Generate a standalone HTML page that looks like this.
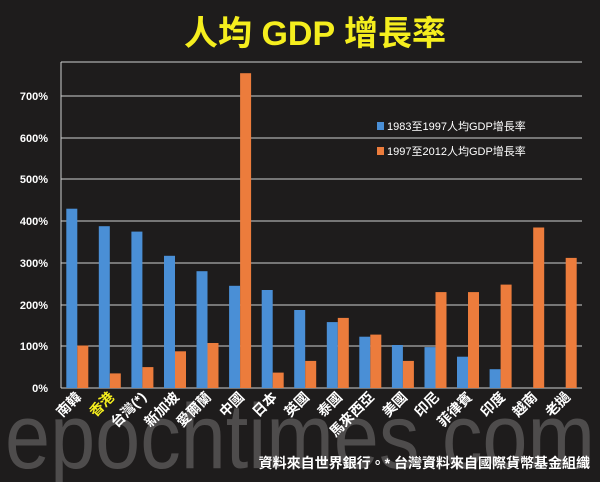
<!DOCTYPE html><html><head><meta charset="utf-8"><style>
body{margin:0;background:#1e1c1c;width:600px;height:482px;overflow:hidden}
svg{display:block}
</style></head><body>
<svg width="600" height="482" viewBox="0 0 600 482" font-family="'Liberation Sans','Noto Sans CJK TC',sans-serif">
<rect width="600" height="482" fill="#1e1c1c"/>
<text x="5" y="468" font-size="92" fill="#4e4c4c" textLength="590" lengthAdjust="spacingAndGlyphs">epochtimes.com</text>
<text x="315" y="45" font-size="34" font-weight="bold" fill="#f5ee1e" text-anchor="middle">人均 GDP 增長率</text>
<g stroke="#cfcfcf" stroke-width="1">
<line x1="61" y1="62" x2="582" y2="62"/>
<line x1="61" y1="96" x2="582" y2="96"/>
<line x1="61" y1="138" x2="582" y2="138"/>
<line x1="61" y1="179" x2="582" y2="179"/>
<line x1="61" y1="221" x2="582" y2="221"/>
<line x1="61" y1="263" x2="582" y2="263"/>
<line x1="61" y1="305" x2="582" y2="305"/>
<line x1="61" y1="346" x2="582" y2="346"/>
<line x1="61" y1="388" x2="582" y2="388"/>
<line x1="61" y1="62" x2="61" y2="388"/>
</g>
<g font-size="11" fill="#fff" text-anchor="end" font-weight="bold">
<text x="48" y="100">700%</text><text x="48" y="142">600%</text><text x="48" y="183">500%</text>
<text x="48" y="225">400%</text><text x="48" y="267">300%</text><text x="48" y="309">200%</text>
<text x="48" y="350">100%</text><text x="48" y="392">0%</text>
</g>
<g fill="#4a8fd6">
<rect x="66.3" y="208.7" width="11" height="179.3"/>
<rect x="98.8" y="226.2" width="11" height="161.8"/>
<rect x="131.4" y="231.6" width="11" height="156.4"/>
<rect x="164" y="255.8" width="11" height="132.2"/>
<rect x="196.5" y="271.2" width="11" height="116.8"/>
<rect x="229.1" y="285.8" width="11" height="102.2"/>
<rect x="261.7" y="290" width="11" height="98"/>
<rect x="294.2" y="310" width="11" height="78"/>
<rect x="326.8" y="322.1" width="11" height="65.9"/>
<rect x="359.3" y="336.7" width="11" height="51.3"/>
<rect x="391.9" y="345" width="11" height="43"/>
<rect x="424.5" y="347.1" width="11" height="40.9"/>
<rect x="457" y="356.7" width="11" height="31.3"/>
<rect x="489.6" y="369.2" width="11" height="18.8"/>
</g>
<g fill="#ec7c3c">
<rect x="77.3" y="345.5" width="11" height="42.5"/>
<rect x="109.8" y="373.4" width="11" height="14.6"/>
<rect x="142.4" y="367.1" width="11" height="20.9"/>
<rect x="175" y="351.3" width="11" height="36.7"/>
<rect x="207.5" y="343" width="11" height="45"/>
<rect x="240.1" y="73.2" width="11" height="314.8"/>
<rect x="272.7" y="372.6" width="11" height="15.4"/>
<rect x="305.2" y="360.9" width="11" height="27.1"/>
<rect x="337.8" y="317.9" width="11" height="70.1"/>
<rect x="370.3" y="334.6" width="11" height="53.4"/>
<rect x="402.9" y="360.9" width="11" height="27.1"/>
<rect x="435.5" y="292.1" width="11" height="95.9"/>
<rect x="468" y="292.1" width="11" height="95.9"/>
<rect x="500.6" y="284.6" width="11" height="103.4"/>
<rect x="533.2" y="227.5" width="11" height="160.5"/>
<rect x="565.7" y="257.9" width="11" height="130.1"/>
</g>
<g font-size="14" font-weight="bold" fill="#fff" text-anchor="end">
<text transform="translate(82,398) rotate(-45)">南韓</text>
<text transform="translate(115,398) rotate(-45)" fill="#f5ee1e">香港</text>
<text transform="translate(147,398) rotate(-45)">台灣(*)</text>
<text transform="translate(180,398) rotate(-45)">新加坡</text>
<text transform="translate(212,398) rotate(-45)">愛爾蘭</text>
<text transform="translate(245,398) rotate(-45)">中國</text>
<text transform="translate(278,398) rotate(-45)">日本</text>
<text transform="translate(310,398) rotate(-45)">英國</text>
<text transform="translate(343,398) rotate(-45)">泰國</text>
<text transform="translate(375,398) rotate(-45)">馬來西亞</text>
<text transform="translate(408,398) rotate(-45)">美國</text>
<text transform="translate(440,398) rotate(-45)">印尼</text>
<text transform="translate(473,398) rotate(-45)">菲律賓</text>
<text transform="translate(506,398) rotate(-45)">印度</text>
<text transform="translate(538,398) rotate(-45)">越南</text>
<text transform="translate(571,398) rotate(-45)">老撾</text>
</g>
<rect x="377" y="122" width="7" height="8" fill="#4a8fd6"/>
<text x="387" y="130" font-size="11" fill="#fff">1983至1997人均GDP增長率</text>
<rect x="377" y="147" width="7" height="8" fill="#ec7c3c"/>
<text x="387" y="155" font-size="11" fill="#fff">1997至2012人均GDP增長率</text>
<text x="590" y="468" font-size="14" font-weight="bold" fill="#fff" text-anchor="end">資料來自世界銀行。* 台灣資料來自國際貨幣基金組織</text>
</svg></body></html>
